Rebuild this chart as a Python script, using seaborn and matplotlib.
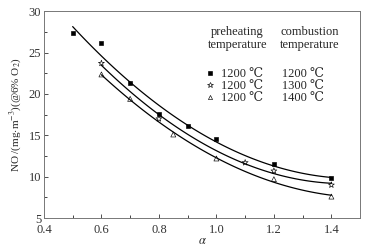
import numpy as np
import pandas as pd
import seaborn as sns
import matplotlib.pyplot as plt
from matplotlib.lines import Line2D

alpha_1200 = [0.5, 0.6, 0.7, 0.8, 0.9, 1.0, 1.2, 1.4]
no_1200 = [27.4, 26.1, 21.3, 17.6, 16.15, 14.5, 11.5, 9.8]
alpha_1300 = [0.6, 0.8, 1.1, 1.2, 1.4]
no_1300 = [23.7, 17.0, 11.7, 10.7, 9.0]
alpha_1400 = [0.6, 0.7, 0.85, 1.0, 1.2, 1.4]
no_1400 = [22.35, 19.4, 15.1, 12.2, 9.7, 7.6]

preheat_labels = ['1200 ℃', '1200 ℃', '1200 ℃']
combust_labels = ['1200 ℃', '1300 ℃', '1400 ℃']

sns.set_style('ticks')
plt.rcParams['font.family'] = ['Liberation Serif', 'DejaVu Serif']
plt.rcParams['mathtext.fontset'] = 'stix'

series = [('1200', alpha_1200, no_1200, 's', 'black'),
          ('1300', alpha_1300, no_1300, '*', 'none'),
          ('1400', alpha_1400, no_1400, '^', 'none')]

pts = pd.concat([pd.DataFrame({'alpha': a, 'no': n, 'T': t}) for t, a, n, _, _ in series])

fits = []
for t, a, n, _, _ in series:
    coef = np.polyfit(a, n, 2)
    xs = np.linspace(min(a), max(a), 100)
    fits.append(pd.DataFrame({'alpha': xs, 'no': np.polyval(coef, xs), 'T': t}))
fit = pd.concat(fits)

fig = plt.figure(figsize=(3.66, 2.47), dpi=100)
ax = fig.add_axes([0.12, 0.117, 0.864, 0.838])

sns.lineplot(data=fit, x='alpha', y='no', hue='T', palette=['black'] * 3,
             linewidth=0.9, legend=False, ax=ax)
for t, a, n, m, fc in series:
    sub = pts[pts['T'] == t]
    ms = 11 if m == 's' else (20 if m == '*' else 13)
    sns.scatterplot(data=sub, x='alpha', y='no', marker=m, s=ms,
                    facecolor=fc, edgecolor='black', linewidth=0.45, ax=ax, zorder=3)

ax.set_xlim(0.4, 1.5)
ax.set_ylim(5, 30)
ax.set_xticks([0.4, 0.6, 0.8, 1.0, 1.2, 1.4])
ax.set_xticks(np.arange(0.5, 1.5, 0.2), minor=True)
ax.set_yticks([5, 10, 15, 20, 25, 30])
ax.set_yticks(np.arange(7.5, 30, 5), minor=True)
ax.tick_params(direction='in', labelsize=9, length=3, width=0.6, colors='#333333', pad=2)
ax.tick_params(axis='x', pad=4.5)
ax.tick_params(which='minor', direction='in', length=2, width=0.6)
for s in ax.spines.values():
    s.set_linewidth(0.7)
    s.set_color('#777777')
ax.set_xlabel(r'$\alpha$', fontsize=9, labelpad=-1)
ax.set_ylabel(r'NO /(mg$\cdot$m$^{-3}$)(@6% O$_2$)', fontsize=8, labelpad=3)

# legend block
ax.text(0.611, 0.90, 'preheating', transform=ax.transAxes, ha='center', va='center', fontsize=9)
ax.text(0.611, 0.837, 'temperature', transform=ax.transAxes, ha='center', va='center', fontsize=9)
ax.text(0.84, 0.90, 'combustion', transform=ax.transAxes, ha='center', va='center', fontsize=9)
ax.text(0.84, 0.837, 'temperature', transform=ax.transAxes, ha='center', va='center', fontsize=9)

handles = [Line2D([], [], ls='none', marker=m, markersize=3 if m != '*' else 4,
                  markerfacecolor=fc, markeredgecolor='black', markeredgewidth=0.45)
           for _, _, _, m, fc in series]
labels = [f'{p}      {c}' for p, c in zip(preheat_labels, combust_labels)]
ax.legend(handles, labels, loc='upper left', bbox_to_anchor=(0.49, 0.755),
          frameon=False, fontsize=9, handlelength=0.8, handletextpad=0.5,
          labelspacing=0.0, borderpad=0)

fig.savefig('out.png', dpi=100)
